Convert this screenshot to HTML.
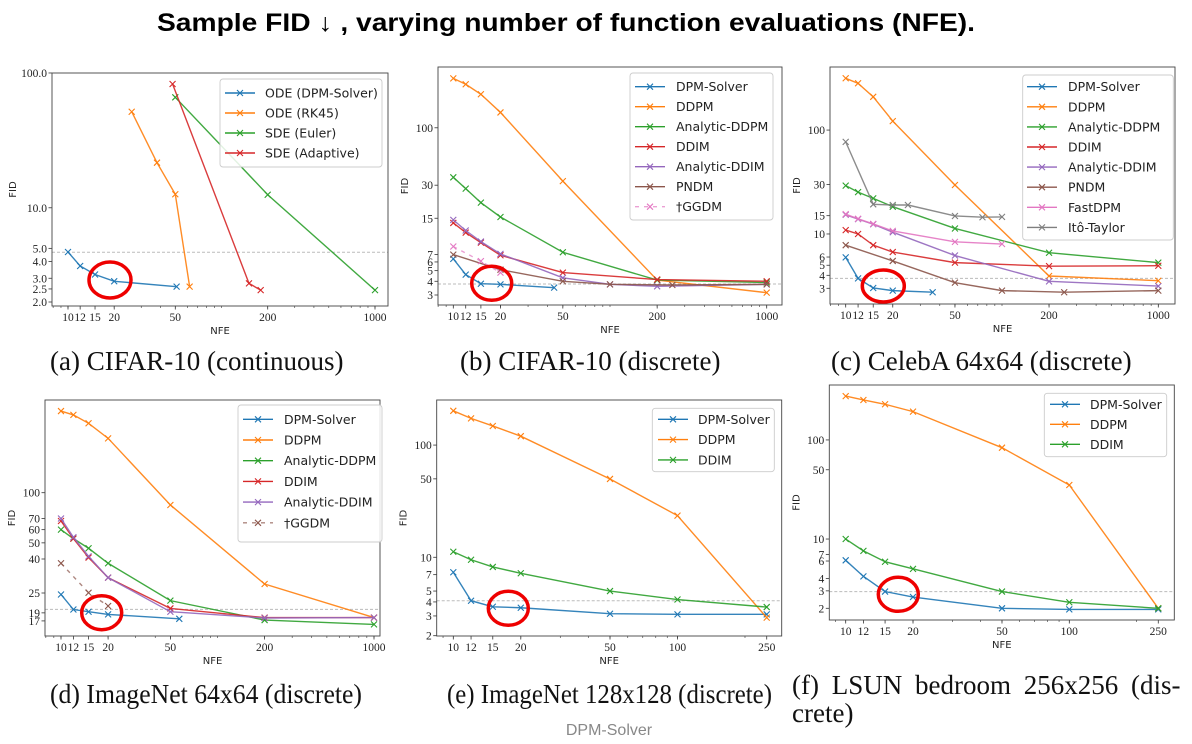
<!DOCTYPE html>
<html><head><meta charset="utf-8">
<style>
html,body{margin:0;padding:0;background:#fff;}
svg{display:block;}
.tk{font-family:"Liberation Serif",serif;font-size:11.5px;fill:#222;}
.ax{font-family:"DejaVu Sans","Liberation Sans",sans-serif;font-size:10px;fill:#222;}
.lg{font-family:"DejaVu Sans","Liberation Sans",sans-serif;font-size:12.5px;fill:#222;}
.cap{font-family:"Liberation Serif",serif;font-size:27px;fill:#111;}
</style></head>
<body>
<svg id="fig" width="1192" height="744" viewBox="0 0 1192 744" xmlns="http://www.w3.org/2000/svg">
<text x="566" y="31" text-anchor="middle" textLength="818" lengthAdjust="spacingAndGlyphs" font-family="Liberation Sans, sans-serif" font-weight="bold" font-size="25" fill="#000">Sample FID ↓ , varying number of function evaluations (NFE).</text>
<text class="cap" x="50" y="370">(a) CIFAR-10 (continuous)</text>
<text class="cap" x="460" y="370">(b) CIFAR-10 (discrete)</text>
<text class="cap" x="831" y="370">(c) CelebA 64x64 (discrete)</text>
<text class="cap" x="50" y="703" textLength="312" lengthAdjust="spacingAndGlyphs">(d) ImageNet 64x64 (discrete)</text>
<text class="cap" x="447" y="703" textLength="325" lengthAdjust="spacingAndGlyphs">(e) ImageNet 128x128 (discrete)</text>
<text class="cap" x="792" y="694" word-spacing="6">(f) LSUN bedroom 256x256 (dis-</text>
<text class="cap" x="792" y="722">crete)</text>
<text x="609" y="735" text-anchor="middle" font-family="Liberation Sans, sans-serif" font-size="16" fill="#888">DPM-Solver</text>
</svg>
<script>
// ---------- data ----------
// (a) CIFAR-10 continuous
const aNames = ["ODE (DPM-Solver)","ODE (RK45)","SDE (Euler)","SDE (Adaptive)"];
const aX = [[10,12,15,20,51],[26,38,50,62],[50,200,1000],[48,151,180]];
const aY = [[4.7,3.7,3.2,2.85,2.6],[51.6,21.6,12.6,2.6],[66,12.5,2.45],[82.8,2.75,2.45]];
const aYT = [2.0,2.5,3.0,4.0,5.0,10.0,100.0];
const aYL = ["2.0","2.5","3.0","4.0","5.0","10.0","100.0"];
const aXT = [10,12,15,20,50,200,1000];
const aRef = 4.68;
// (b) CIFAR-10 discrete
const bNames = ["DPM-Solver","DDPM","Analytic-DDPM","DDIM","Analytic-DDIM","PNDM","†GGDM"];
const bX = [[10,12,15,20,44],[10,12,15,20,50,200,1000],[10,12,15,20,50,200,1000],[10,12,15,20,50,200,1000],[10,12,15,20,50,100,200,1000],[10,20,50,100,250,1000],[10,15,20]];
const bY = [[6.4,4.6,3.8,3.75,3.5],[282,249,202,138,32.7,4.1,3.15],[35.4,27.9,20.8,15.4,7.35,4.1,3.9],[13.6,11.1,9.0,6.9,4.8,4.15,4.0],[14.5,11.6,9.2,7.1,4.3,3.75,3.6,3.75],[7.0,5.1,4.0,3.75,3.7,3.75],[8.3,6.1,4.8]];
const bYT = [3,4,5,6,7,15,30,100];
const bXT = [10,12,15,20,50,200,1000];
const bRef = 3.78;
// (c) CelebA
const cNames = ["DPM-Solver","DDPM","Analytic-DDPM","DDIM","Analytic-DDIM","PNDM","FastDPM","Itô-Taylor"];
const cX = [[10,12,15,20,36],[10,12,15,20,50,200,1000],[10,12,15,20,50,200,1000],[10,12,15,20,50,200,1000],[10,12,15,20,50,200,1000],[10,20,50,100,250,1000],[10,12,15,20,50,100],[10,15,20,25,50,75,100]];
const cY = [[5.95,3.74,3.02,2.85,2.75],[315,282,209,122,29.6,3.94,3.55],[29.2,25.3,22,18.3,11.3,6.6,5.3],[10.9,10.0,7.8,6.7,5.3,4.9,4.95],[15.3,13.9,12.4,10.4,6.2,3.5,3.15],[7.8,5.5,3.4,2.85,2.75,2.85],[15.5,14,12.5,10.7,8.4,8.0],[77,19.3,19,19,14.9,14.5,14.6]];
const cYT = [3,4,5,6,10,15,30,100];
const cXT = [10,12,15,20,50,200,1000];
const cRef = 3.74;
// (d) ImageNet 64
const dNames = ["DPM-Solver","DDPM","Analytic-DDPM","DDIM","Analytic-DDIM","†GGDM"];
const dX = [[10,12,15,20,57],[10,12,15,20,50,200,1000],[10,12,15,20,50,200,1000],[10,12,15,20,50,200,1000],[10,12,15,20,50,200,1000],[10,15,20]];
const dY = [[24.5,19.9,19.3,18.6,17.5],[309,293,261,212,84.4,28.3,17.8],[60,53,46.4,37.7,22.5,17.2,16.2],[67.6,53,40.8,30.9,20.2,17.8,17.8],[70,54,41.5,30.9,19.3,17.7,17.8],[37.7,25.1,20.9]];
const dYT = [17,19,25,40,50,60,70,100];
const dXT = [10,12,15,20,50,200,1000];
const dRef = 19.95;
// (e) ImageNet 128
const eNames = ["DPM-Solver","DDPM","DDIM"];
const eX = [[10,12,15,20,50,100,250],[10,12,15,20,50,100,250],[10,12,15,20,50,100,250]];
const eY = [[7.35,4.1,3.62,3.55,3.14,3.1,3.1],[202,173,148,120,49.9,23.5,2.9],[11.2,9.5,8.2,7.2,5.0,4.2,3.6]];
const eYT = [2,3,4,5,7,10,50,100];
const eXT = [10,12,15,20,50,100,250];
const eRef = 4.1;
// (f) LSUN bedroom
const fNames = ["DPM-Solver","DDPM","DDIM"];
const fX = [[10,12,15,20,50,100,250],[10,12,15,20,50,100,250],[10,12,15,20,50,100,250]];
const fY = [[6.1,4.2,2.95,2.6,2.0,1.95,1.95],[277,253,229,193,83.5,35.1,2.0],[10.0,7.6,5.9,5.0,2.95,2.3,2.0]];
const fYT = [2,3,4,6,7,10,50,100];
const fXT = [10,12,15,20,50,100,250];
const fRef = 2.95;

// ---------- layout (positions only) ----------
const C = {blue:"#1f77b4",orange:"#ff7f0e",green:"#2ca02c",red:"#d62728",purple:"#9467bd",brown:"#8c564b",pink:"#e377c2",gray:"#7f7f7f"};
const panels = [
 {id:"a",names:aNames,xs:aX,ys:aY,yt:aYT,yl:aYL,xt:aXT,ref:aRef,
  colors:[C.blue,C.orange,C.green,C.red],dash:[],
  L:52,R:388,T:73,B:306,x0:68,xd:153.5,yv:2,yp:302,yd:134.8,
  lg:[220,79,162,88,93,20,225,265],circ:[110,280,21,18]},
 {id:"b",names:bNames,xs:bX,ys:bY,yt:bYT,xt:bXT,ref:bRef,
  colors:[C.blue,C.orange,C.green,C.red,C.purple,C.brown,C.pink],dash:[6],
  L:438,R:782,T:67,B:305,x0:453.3,xd:156.7,yv:3,yp:295,yd:109.8,
  lg:[630,73,143,147,86.7,20,635,676],circ:[491.7,283.3,20,17]},
 {id:"c",names:cNames,xs:cX,ys:cY,yt:cYT,xt:cXT,ref:cRef,
  colors:[C.blue,C.orange,C.green,C.red,C.purple,C.brown,C.pink,C.gray],dash:[],
  L:830,R:1175,T:67,B:304,x0:845.7,xd:156.3,yv:3,yp:288.3,yd:103.9,
  lg:[1022.7,75,150.6,165,86.7,20.1,1027,1068],circ:[883.3,286,21,16]},
 {id:"d",names:dNames,xs:dX,ys:dY,yt:dYT,xt:dXT,ref:dRef,
  colors:[C.blue,C.orange,C.green,C.red,C.purple,C.brown],dash:[5],
  L:45,R:380,T:400,B:636,x0:61,xd:156.5,yv:100,yp:492.7,yd:166.6,
  lg:[238,405,144,137,419.3,20.7,243,284],circ:[101.7,612.7,20,17]},
 {id:"e",names:eNames,xs:eX,ys:eY,yt:eYT,xt:eXT,ref:eRef,
  colors:[C.blue,C.orange,C.green],dash:[],
  L:436.7,R:781.7,T:400,B:636,x0:453.3,xd:224.2,yv:2,yp:635.7,yd:112.2,
  lg:[652.3,408.3,122,63.4,419.3,20.3,658,698],circ:[508.3,608.3,20,17]},
 {id:"f",names:fNames,xs:fX,ys:fY,yt:fYT,xt:fXT,ref:fRef,
  colors:[C.blue,C.orange,C.green],dash:[],
  L:829.3,R:1174.3,T:385,B:620,x0:845.7,xd:223.6,yv:2,yp:608.3,yd:99.1,
  lg:[1044.3,393.3,122.4,63.4,404.3,20,1050,1090],circ:[898.3,594.3,20,17]}
];

const NS="http://www.w3.org/2000/svg";
const svg=document.getElementById("fig");
function mk(tag,attrs,parent){const e=document.createElementNS(NS,tag);for(const k in attrs)e.setAttribute(k,attrs[k]);(parent||svg).appendChild(e);return e;}

panels.forEach(p=>{
  const sx=v=>p.x0+p.xd*Math.log10(v/10);
  const sy=v=>p.yp-p.yd*Math.log10(v/p.yv);
  const g=mk("g",{});
  
  
  const clip=mk("clipPath",{id:"clip-"+p.id},g);
  mk("rect",{x:p.L,y:p.T,width:p.R-p.L,height:p.B-p.T},clip);
  const xmin=10*Math.pow(10,(p.L-p.x0)/p.xd), xmax=10*Math.pow(10,(p.R-p.x0)/p.xd);
  for(let dec=1;dec<=1000;dec*=10){for(let m=1;m<10;m++){const v=m*dec;if(v<=xmin||v>=xmax)continue;const x=sx(v);
    const t=mk("line",{x1:x,x2:x,y1:p.B,y2:p.B+2,stroke:"#333","stroke-width":0.6},g);
    
    }}
  p.xt.forEach(v=>{const x=sx(v);
    const t=mk("line",{x1:x,x2:x,y1:p.B,y2:p.B+3.5,stroke:"#333","stroke-width":0.8},g);
    
    
    const tx=mk("text",{x:x,y:p.B+15,"text-anchor":"middle",class:"tk"},g);tx.textContent=String(v);
    
    });
  p.yt.forEach((v,i)=>{const y=sy(v);
    const t=mk("line",{x1:p.L-3.5,x2:p.L,y1:y,y2:y,stroke:"#333","stroke-width":0.8},g);
    
    
    const tx=mk("text",{x:p.L-5,y:y+4,"text-anchor":"end",class:"tk"},g);tx.textContent=p.yl?p.yl[i]:String(v);
    
    });
  const xl=mk("text",{x:(p.L+p.R)/2,y:p.B+28,"text-anchor":"middle",class:"ax"},g);xl.textContent="NFE";
  
  
  const yc=(p.T+p.B)/2, yx=p.L-(p.id==="a"?36:30);
  const yl=mk("text",{x:yx,y:yc,"text-anchor":"middle",class:"ax",transform:`rotate(-90 ${yx} ${yc})`},g);yl.textContent="FID";
  
  
  const rl=mk("line",{x1:p.L,x2:p.R,y1:sy(p.ref),y2:sy(p.ref),stroke:"#bbb","stroke-width":1,"stroke-dasharray":"3,2"},g);
  
  
  const sg=mk("g",{"clip-path":`url(#clip-${p.id})`},g);
  p.names.forEach((nm,si)=>{
    const col=p.colors[si]; const dashed=(p.dash.length&&si===p.names.length-1);
    const pts=p.xs[si].map((x,i)=>[sx(x),sy(p.ys[si][i])]);
    const pl=mk("polyline",{points:pts.map(q=>q.join(",")).join(" "),fill:"none",stroke:col,"stroke-width":1.4,"stroke-dasharray":dashed?"4,5":"none",opacity:dashed?0.7:0.9},sg);
    
    
    pts.forEach(q=>{const s=3;
      const m=mk("path",{d:`M${q[0]-s},${q[1]-s}L${q[0]+s},${q[1]+s}M${q[0]-s},${q[1]+s}L${q[0]+s},${q[1]-s}`,stroke:col,"stroke-width":1.1,fill:"none"},sg);
      
      });
  });
  const fr=mk("rect",{x:p.L,y:p.T,width:p.R-p.L,height:p.B-p.T,fill:"none",stroke:"#444","stroke-width":0.9},g);
  
  
  const [lx,ly,lw,lh,ey,es,lsx,ltx]=p.lg;
  const lgg=mk("g",{},g);
  
  
  mk("rect",{x:lx,y:ly,width:lw,height:lh,rx:3,fill:"#fff","fill-opacity":0.85,stroke:"#ccc","stroke-width":0.9},lgg);
  p.names.forEach((nm,si)=>{const y=ey+es*si, col=p.colors[si]; const dashed=(p.dash.length&&si===p.names.length-1);
    const e=mk("g",{},lgg);
    
    
    mk("line",{x1:lsx,x2:lsx+30,y1:y,y2:y,stroke:col,"stroke-width":1.4,"stroke-dasharray":dashed?"4,5":"none",opacity:dashed?0.7:1},e);
    const c=lsx+15,s=3;
    mk("path",{d:`M${c-s},${y-s}L${c+s},${y+s}M${c-s},${y+s}L${c+s},${y-s}`,stroke:col,"stroke-width":1.1},e);
    const t=mk("text",{x:ltx,y:y+4.5,class:"lg"},e);t.textContent=nm;});
  const [cx,cy,rx,ry]=p.circ;
  const ci=mk("ellipse",{cx:cx,cy:cy,rx:rx,ry:ry,fill:"none",stroke:"#ee0000","stroke-width":3.5},g);
  
  
});
</script>
</body></html>
